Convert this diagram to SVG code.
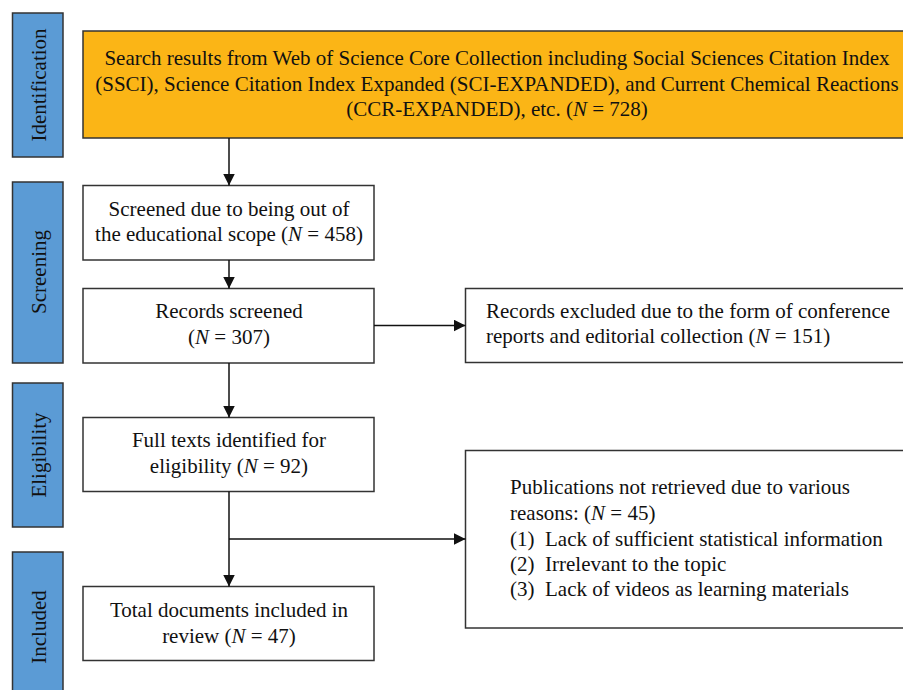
<svg xmlns="http://www.w3.org/2000/svg" width="903" height="690" viewBox="0 0 903 690">
<style>
.stage{fill:#5B9BD5;stroke:#333;stroke-width:1.5}
.box{fill:#fff;stroke:#333;stroke-width:1.5}
.orange{fill:#FBB516;stroke:#333;stroke-width:1.5}
text{font-family:"Liberation Serif","Times New Roman",serif;font-size:21px;fill:#111}
.c{text-anchor:middle}
.i{font-style:italic}
.conn{stroke:#111;stroke-width:1.5;fill:none}
</style>
<defs>
<marker id="ah" viewBox="0 0 10 10" refX="10" refY="5" markerWidth="12" markerHeight="12" markerUnits="userSpaceOnUse" orient="auto">
<path d="M0,0 L10,5 L0,10 z" fill="#111"/>
</marker>
</defs>
<g id="stage-identification"><rect class="stage" x="12.5" y="13" width="50.5" height="144"/><text class="c" transform="translate(45.5,85) rotate(-90)">Identification</text></g>
<g id="stage-screening"><rect class="stage" x="12.5" y="182" width="50.5" height="181"/><text class="c" transform="translate(45.5,272) rotate(-90)">Screening</text></g>
<g id="stage-eligibility"><rect class="stage" x="12.5" y="383" width="50.5" height="144"/><text class="c" transform="translate(45.5,455) rotate(-90)">Eligibility</text></g>
<g id="stage-included"><rect class="stage" x="12.5" y="552" width="50.5" height="150"/><text class="c" transform="translate(45.5,627) rotate(-90)">Included</text></g>
<g id="search"><rect class="orange" x="83" y="31" width="840" height="107"/>
<text class="c" x="497" y="65">Search results from Web of Science Core Collection including Social Sciences Citation Index</text>
<text class="c" x="497" y="90.5">(SSCI), Science Citation Index Expanded (SCI-EXPANDED), and Current Chemical Reactions</text>
<text class="c" x="497" y="116">(CCR-EXPANDED), etc. (<tspan class="i">N</tspan> = 728)</text></g>
<g id="screened-out"><rect class="box" x="83" y="185.5" width="291" height="74.5"/>
<text class="c" x="229" y="216">Screened due to being out of</text>
<text class="c" x="229" y="241">the educational scope (<tspan class="i">N</tspan> = 458)</text></g>
<g id="records-screened"><rect class="box" x="83" y="288.5" width="291" height="74.5"/>
<text class="c" x="229" y="318">Records screened</text>
<text class="c" x="229" y="344">(<tspan class="i">N</tspan> = 307)</text></g>
<g id="records-excluded"><rect class="box" x="465.5" y="288.5" width="460" height="74"/>
<text x="486" y="318">Records excluded due to the form of conference</text>
<text x="486" y="343">reports and editorial collection (<tspan class="i">N</tspan> = 151)</text></g>
<g id="full-texts"><rect class="box" x="83" y="417.5" width="291" height="74"/>
<text class="c" x="229" y="447">Full texts identified for</text>
<text class="c" x="229" y="473">eligibility (<tspan class="i">N</tspan> = 92)</text></g>
<g id="not-retrieved"><rect class="box" x="465.5" y="450.5" width="460" height="177.5"/>
<text x="510" y="494">Publications not retrieved due to various</text>
<text x="510" y="520">reasons: (<tspan class="i">N</tspan> = 45)</text>
<text x="510" y="546">(1)</text><text x="545" y="546">Lack of sufficient statistical information</text>
<text x="510" y="571">(2)</text><text x="545" y="571">Irrelevant to the topic</text>
<text x="510" y="596">(3)</text><text x="545" y="596">Lack of videos as learning materials</text></g>
<g id="included"><rect class="box" x="83" y="586.5" width="291" height="74"/>
<text class="c" x="229" y="617">Total documents included in</text>
<text class="c" x="229" y="643">review (<tspan class="i">N</tspan> = 47)</text></g>
<g id="connectors">
<line class="conn" x1="229" y1="138" x2="229" y2="185.5" marker-end="url(#ah)"/>
<line class="conn" x1="229" y1="260" x2="229" y2="288.5" marker-end="url(#ah)"/>
<line class="conn" x1="374" y1="325.5" x2="465.5" y2="325.5" marker-end="url(#ah)"/>
<line class="conn" x1="229" y1="363" x2="229" y2="417.5" marker-end="url(#ah)"/>
<line class="conn" x1="229" y1="491.5" x2="229" y2="586.5" marker-end="url(#ah)"/>
<line class="conn" x1="229" y1="539" x2="465.5" y2="539" marker-end="url(#ah)"/>
</g>
</svg>
